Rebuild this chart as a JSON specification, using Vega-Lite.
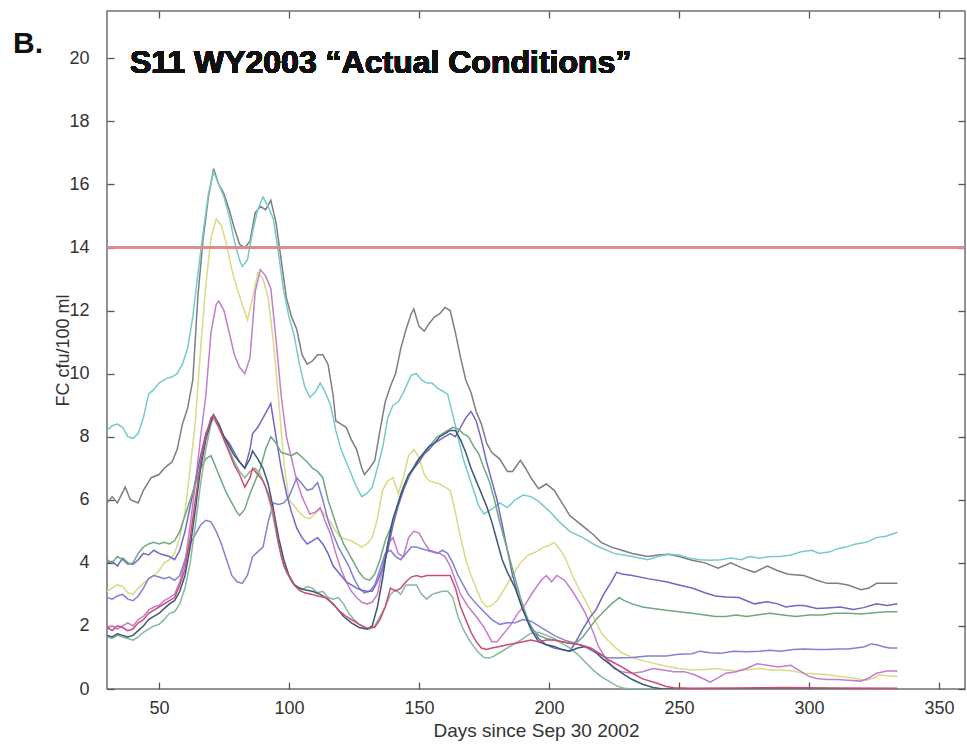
{
"$schema": "https://vega.github.io/schema/vega-lite/v6.json",
"width": 858, "height": 678,
"autosize": {"type": "none"},
"padding": {"left": 107, "top": 11, "right": 2, "bottom": 55},
"background": "white",
"config": {"view": {"stroke": "#707070", "strokeWidth": 1.5}, "font": "Liberation Sans"},
"title": {"text": "B.", "anchor": "start", "frame": "group", "dx": -94, "dy": 73, "offset": 0, "baseline": "alphabetic", "fontSize": 30, "fontWeight": "bold", "font": "Liberation Sans", "color": "#111111"},
"data": {"values": [
{"s":"a","day":30,"fc":5.9},{"s":"a","day":32,"fc":6.1},{"s":"a","day":34,"fc":5.9},{"s":"a","day":37,"fc":6.4},{"s":"a","day":39,"fc":6.0},{"s":"a","day":42,"fc":5.9},{"s":"a","day":44,"fc":6.3},{"s":"a","day":47,"fc":6.7},{"s":"a","day":50,"fc":6.8},{"s":"a","day":52,"fc":7.0},{"s":"a","day":55,"fc":7.2},{"s":"a","day":57,"fc":7.6},{"s":"a","day":59,"fc":8.4},{"s":"a","day":61,"fc":8.9},{"s":"a","day":63,"fc":9.8},{"s":"a","day":65,"fc":12.5},{"s":"a","day":67,"fc":14.3},{"s":"a","day":69,"fc":15.6},{"s":"a","day":71,"fc":16.5},{"s":"a","day":73,"fc":16.0},{"s":"a","day":75,"fc":15.7},{"s":"a","day":77,"fc":15.2},{"s":"a","day":79,"fc":14.6},{"s":"a","day":81,"fc":14.1},{"s":"a","day":83,"fc":14.0},{"s":"a","day":85,"fc":14.2},{"s":"a","day":87,"fc":15.1},{"s":"a","day":89,"fc":15.3},{"s":"a","day":91,"fc":15.2},{"s":"a","day":93,"fc":15.5},{"s":"a","day":95,"fc":14.8},{"s":"a","day":97,"fc":13.6},{"s":"a","day":99,"fc":12.4},{"s":"a","day":101,"fc":11.8},{"s":"a","day":103,"fc":11.4},{"s":"a","day":105,"fc":10.6},{"s":"a","day":107,"fc":10.3},{"s":"a","day":109,"fc":10.4},{"s":"a","day":111,"fc":10.6},{"s":"a","day":113,"fc":10.6},{"s":"a","day":115,"fc":10.3},{"s":"a","day":117,"fc":9.3},{"s":"a","day":118,"fc":8.5},{"s":"a","day":120,"fc":8.4},{"s":"a","day":122,"fc":8.3},{"s":"a","day":124,"fc":7.9},{"s":"a","day":126,"fc":7.6},{"s":"a","day":128,"fc":7.0},{"s":"a","day":129,"fc":6.8},{"s":"a","day":131,"fc":7.0},{"s":"a","day":133,"fc":7.25},{"s":"a","day":135,"fc":8.2},{"s":"a","day":137,"fc":9.1},{"s":"a","day":139,"fc":9.6},{"s":"a","day":141,"fc":10.0},{"s":"a","day":143,"fc":10.8},{"s":"a","day":145,"fc":11.4},{"s":"a","day":147,"fc":11.9},{"s":"a","day":148,"fc":12.05},{"s":"a","day":150,"fc":11.5},{"s":"a","day":152,"fc":11.35},{"s":"a","day":154,"fc":11.6},{"s":"a","day":156,"fc":11.8},{"s":"a","day":158,"fc":11.9},{"s":"a","day":160,"fc":12.1},{"s":"a","day":162,"fc":12.0},{"s":"a","day":164,"fc":11.3},{"s":"a","day":166,"fc":10.5},{"s":"a","day":168,"fc":9.8},{"s":"a","day":170,"fc":9.4},{"s":"a","day":172,"fc":8.8},{"s":"a","day":174,"fc":8.4},{"s":"a","day":176,"fc":7.8},{"s":"a","day":178,"fc":7.5},{"s":"a","day":181,"fc":7.3},{"s":"a","day":184,"fc":6.9},{"s":"a","day":186,"fc":6.9},{"s":"a","day":189,"fc":7.25},{"s":"a","day":191,"fc":7.0},{"s":"a","day":193,"fc":6.7},{"s":"a","day":196,"fc":6.35},{"s":"a","day":199,"fc":6.5},{"s":"a","day":202,"fc":6.3},{"s":"a","day":205,"fc":5.9},{"s":"a","day":208,"fc":5.5},{"s":"a","day":211,"fc":5.3},{"s":"a","day":214,"fc":5.1},{"s":"a","day":217,"fc":4.9},{"s":"a","day":220,"fc":4.65},{"s":"a","day":224,"fc":4.5},{"s":"a","day":228,"fc":4.4},{"s":"a","day":232,"fc":4.3},{"s":"a","day":238,"fc":4.2},{"s":"a","day":242,"fc":4.25},{"s":"a","day":246,"fc":4.27},{"s":"a","day":250,"fc":4.2},{"s":"a","day":255,"fc":4.08},{"s":"a","day":260,"fc":4.0},{"s":"a","day":265,"fc":3.83},{"s":"a","day":270,"fc":4.0},{"s":"a","day":274,"fc":3.85},{"s":"a","day":279,"fc":3.7},{"s":"a","day":284,"fc":3.9},{"s":"a","day":288,"fc":3.75},{"s":"a","day":292,"fc":3.64},{"s":"a","day":298,"fc":3.6},{"s":"a","day":303,"fc":3.45},{"s":"a","day":307,"fc":3.35},{"s":"a","day":311,"fc":3.35},{"s":"a","day":315,"fc":3.3},{"s":"a","day":320,"fc":3.15},{"s":"a","day":323,"fc":3.2},{"s":"a","day":326,"fc":3.35},{"s":"a","day":330,"fc":3.35},{"s":"a","day":334,"fc":3.35},
{"s":"b","day":30,"fc":8.2},{"s":"b","day":32,"fc":8.35},{"s":"b","day":34,"fc":8.4},{"s":"b","day":36,"fc":8.3},{"s":"b","day":38,"fc":8.0},{"s":"b","day":40,"fc":7.95},{"s":"b","day":42,"fc":8.1},{"s":"b","day":44,"fc":8.6},{"s":"b","day":46,"fc":9.35},{"s":"b","day":48,"fc":9.5},{"s":"b","day":50,"fc":9.7},{"s":"b","day":53,"fc":9.85},{"s":"b","day":55,"fc":9.9},{"s":"b","day":57,"fc":10.0},{"s":"b","day":59,"fc":10.3},{"s":"b","day":61,"fc":10.8},{"s":"b","day":63,"fc":11.8},{"s":"b","day":65,"fc":13.2},{"s":"b","day":67,"fc":14.5},{"s":"b","day":69,"fc":15.7},{"s":"b","day":71,"fc":16.4},{"s":"b","day":73,"fc":16.0},{"s":"b","day":75,"fc":15.6},{"s":"b","day":77,"fc":15.0},{"s":"b","day":79,"fc":14.2},{"s":"b","day":81,"fc":13.6},{"s":"b","day":82,"fc":13.4},{"s":"b","day":84,"fc":13.6},{"s":"b","day":86,"fc":14.5},{"s":"b","day":88,"fc":15.2},{"s":"b","day":90,"fc":15.6},{"s":"b","day":92,"fc":15.3},{"s":"b","day":94,"fc":14.9},{"s":"b","day":96,"fc":13.8},{"s":"b","day":98,"fc":12.6},{"s":"b","day":100,"fc":11.8},{"s":"b","day":102,"fc":11.2},{"s":"b","day":104,"fc":10.3},{"s":"b","day":106,"fc":9.6},{"s":"b","day":108,"fc":9.25},{"s":"b","day":110,"fc":9.4},{"s":"b","day":112,"fc":9.7},{"s":"b","day":114,"fc":9.4},{"s":"b","day":116,"fc":9.0},{"s":"b","day":118,"fc":8.2},{"s":"b","day":120,"fc":7.6},{"s":"b","day":123,"fc":7.0},{"s":"b","day":126,"fc":6.4},{"s":"b","day":128,"fc":6.1},{"s":"b","day":130,"fc":6.2},{"s":"b","day":132,"fc":6.4},{"s":"b","day":134,"fc":7.0},{"s":"b","day":136,"fc":7.65},{"s":"b","day":138,"fc":8.6},{"s":"b","day":140,"fc":9.0},{"s":"b","day":142,"fc":9.1},{"s":"b","day":144,"fc":9.4},{"s":"b","day":147,"fc":9.95},{"s":"b","day":149,"fc":10.0},{"s":"b","day":151,"fc":9.8},{"s":"b","day":153,"fc":9.7},{"s":"b","day":155,"fc":9.7},{"s":"b","day":157,"fc":9.55},{"s":"b","day":159,"fc":9.45},{"s":"b","day":161,"fc":9.35},{"s":"b","day":163,"fc":8.7},{"s":"b","day":165,"fc":8.0},{"s":"b","day":167,"fc":7.3},{"s":"b","day":169,"fc":6.8},{"s":"b","day":171,"fc":6.3},{"s":"b","day":173,"fc":5.8},{"s":"b","day":175,"fc":5.55},{"s":"b","day":178,"fc":5.7},{"s":"b","day":181,"fc":5.9},{"s":"b","day":184,"fc":5.75},{"s":"b","day":187,"fc":6.0},{"s":"b","day":190,"fc":6.15},{"s":"b","day":193,"fc":6.1},{"s":"b","day":196,"fc":5.95},{"s":"b","day":200,"fc":5.65},{"s":"b","day":204,"fc":5.3},{"s":"b","day":208,"fc":5.0},{"s":"b","day":213,"fc":4.8},{"s":"b","day":218,"fc":4.55},{"s":"b","day":225,"fc":4.3},{"s":"b","day":232,"fc":4.2},{"s":"b","day":238,"fc":4.1},{"s":"b","day":242,"fc":4.2},{"s":"b","day":246,"fc":4.27},{"s":"b","day":250,"fc":4.25},{"s":"b","day":254,"fc":4.15},{"s":"b","day":258,"fc":4.1},{"s":"b","day":262,"fc":4.08},{"s":"b","day":266,"fc":4.1},{"s":"b","day":270,"fc":4.15},{"s":"b","day":274,"fc":4.1},{"s":"b","day":277,"fc":4.2},{"s":"b","day":281,"fc":4.15},{"s":"b","day":285,"fc":4.2},{"s":"b","day":289,"fc":4.2},{"s":"b","day":293,"fc":4.25},{"s":"b","day":297,"fc":4.35},{"s":"b","day":301,"fc":4.4},{"s":"b","day":304,"fc":4.3},{"s":"b","day":308,"fc":4.35},{"s":"b","day":311,"fc":4.45},{"s":"b","day":314,"fc":4.5},{"s":"b","day":318,"fc":4.6},{"s":"b","day":322,"fc":4.65},{"s":"b","day":326,"fc":4.8},{"s":"b","day":330,"fc":4.85},{"s":"b","day":334,"fc":4.97},
{"s":"c","day":30,"fc":3.1},{"s":"c","day":32,"fc":3.2},{"s":"c","day":34,"fc":3.3},{"s":"c","day":36,"fc":3.25},{"s":"c","day":38,"fc":3.05},{"s":"c","day":40,"fc":3.0},{"s":"c","day":42,"fc":3.2},{"s":"c","day":44,"fc":3.35},{"s":"c","day":46,"fc":3.5},{"s":"c","day":48,"fc":3.6},{"s":"c","day":50,"fc":3.75},{"s":"c","day":52,"fc":4.0},{"s":"c","day":54,"fc":4.1},{"s":"c","day":56,"fc":4.3},{"s":"c","day":58,"fc":4.8},{"s":"c","day":60,"fc":5.6},{"s":"c","day":62,"fc":7.0},{"s":"c","day":64,"fc":8.5},{"s":"c","day":66,"fc":10.8},{"s":"c","day":68,"fc":12.8},{"s":"c","day":70,"fc":14.3},{"s":"c","day":72,"fc":14.9},{"s":"c","day":74,"fc":14.7},{"s":"c","day":76,"fc":14.1},{"s":"c","day":78,"fc":13.3},{"s":"c","day":80,"fc":12.7},{"s":"c","day":82,"fc":12.2},{"s":"c","day":84,"fc":11.7},{"s":"c","day":86,"fc":12.4},{"s":"c","day":88,"fc":13.2},{"s":"c","day":90,"fc":13.0},{"s":"c","day":92,"fc":12.4},{"s":"c","day":94,"fc":11.0},{"s":"c","day":96,"fc":9.2},{"s":"c","day":98,"fc":7.2},{"s":"c","day":100,"fc":6.0},{"s":"c","day":102,"fc":5.8},{"s":"c","day":104,"fc":5.6},{"s":"c","day":106,"fc":5.45},{"s":"c","day":108,"fc":5.4},{"s":"c","day":110,"fc":5.55},{"s":"c","day":112,"fc":5.7},{"s":"c","day":114,"fc":5.5},{"s":"c","day":116,"fc":5.3},{"s":"c","day":118,"fc":5.0},{"s":"c","day":120,"fc":4.8},{"s":"c","day":122,"fc":4.75},{"s":"c","day":124,"fc":4.7},{"s":"c","day":126,"fc":4.6},{"s":"c","day":128,"fc":4.5},{"s":"c","day":130,"fc":4.6},{"s":"c","day":132,"fc":4.8},{"s":"c","day":134,"fc":5.4},{"s":"c","day":136,"fc":6.3},{"s":"c","day":138,"fc":6.6},{"s":"c","day":140,"fc":6.7},{"s":"c","day":142,"fc":6.2},{"s":"c","day":144,"fc":6.7},{"s":"c","day":146,"fc":7.4},{"s":"c","day":148,"fc":7.6},{"s":"c","day":150,"fc":7.35},{"s":"c","day":152,"fc":6.8},{"s":"c","day":154,"fc":6.6},{"s":"c","day":156,"fc":6.55},{"s":"c","day":158,"fc":6.5},{"s":"c","day":160,"fc":6.4},{"s":"c","day":162,"fc":6.3},{"s":"c","day":164,"fc":5.6},{"s":"c","day":166,"fc":4.8},{"s":"c","day":168,"fc":4.1},{"s":"c","day":170,"fc":3.6},{"s":"c","day":172,"fc":3.2},{"s":"c","day":174,"fc":2.8},{"s":"c","day":176,"fc":2.6},{"s":"c","day":178,"fc":2.65},{"s":"c","day":180,"fc":2.8},{"s":"c","day":183,"fc":3.2},{"s":"c","day":186,"fc":3.6},{"s":"c","day":189,"fc":4.0},{"s":"c","day":192,"fc":4.25},{"s":"c","day":195,"fc":4.35},{"s":"c","day":198,"fc":4.5},{"s":"c","day":200,"fc":4.55},{"s":"c","day":202,"fc":4.65},{"s":"c","day":204,"fc":4.45},{"s":"c","day":206,"fc":4.2},{"s":"c","day":209,"fc":3.6},{"s":"c","day":212,"fc":3.1},{"s":"c","day":214,"fc":2.8},{"s":"c","day":217,"fc":2.3},{"s":"c","day":220,"fc":1.8},{"s":"c","day":222,"fc":1.6},{"s":"c","day":225,"fc":1.35},{"s":"c","day":228,"fc":1.15},{"s":"c","day":232,"fc":1.0},{"s":"c","day":236,"fc":0.9},{"s":"c","day":240,"fc":0.82},{"s":"c","day":245,"fc":0.72},{"s":"c","day":250,"fc":0.65},{"s":"c","day":255,"fc":0.6},{"s":"c","day":260,"fc":0.62},{"s":"c","day":264,"fc":0.65},{"s":"c","day":268,"fc":0.6},{"s":"c","day":272,"fc":0.58},{"s":"c","day":277,"fc":0.62},{"s":"c","day":281,"fc":0.65},{"s":"c","day":285,"fc":0.6},{"s":"c","day":289,"fc":0.6},{"s":"c","day":293,"fc":0.58},{"s":"c","day":298,"fc":0.5},{"s":"c","day":302,"fc":0.48},{"s":"c","day":307,"fc":0.45},{"s":"c","day":312,"fc":0.4},{"s":"c","day":317,"fc":0.35},{"s":"c","day":320,"fc":0.3},{"s":"c","day":322,"fc":0.28},{"s":"c","day":325,"fc":0.35},{"s":"c","day":327,"fc":0.45},{"s":"c","day":330,"fc":0.42},{"s":"c","day":334,"fc":0.4},
{"s":"d","day":30,"fc":1.95},{"s":"d","day":32,"fc":2.0},{"s":"d","day":34,"fc":1.9},{"s":"d","day":36,"fc":2.0},{"s":"d","day":38,"fc":2.1},{"s":"d","day":40,"fc":2.0},{"s":"d","day":42,"fc":2.2},{"s":"d","day":44,"fc":2.3},{"s":"d","day":46,"fc":2.5},{"s":"d","day":48,"fc":2.6},{"s":"d","day":50,"fc":2.65},{"s":"d","day":52,"fc":2.8},{"s":"d","day":54,"fc":2.9},{"s":"d","day":56,"fc":3.0},{"s":"d","day":58,"fc":3.4},{"s":"d","day":60,"fc":4.0},{"s":"d","day":62,"fc":5.2},{"s":"d","day":64,"fc":6.5},{"s":"d","day":66,"fc":8.0},{"s":"d","day":68,"fc":9.3},{"s":"d","day":70,"fc":11.3},{"s":"d","day":72,"fc":12.2},{"s":"d","day":73,"fc":12.3},{"s":"d","day":75,"fc":12.0},{"s":"d","day":77,"fc":11.3},{"s":"d","day":79,"fc":10.6},{"s":"d","day":81,"fc":10.2},{"s":"d","day":83,"fc":10.0},{"s":"d","day":85,"fc":10.5},{"s":"d","day":87,"fc":12.6},{"s":"d","day":89,"fc":13.3},{"s":"d","day":91,"fc":13.1},{"s":"d","day":93,"fc":12.7},{"s":"d","day":95,"fc":11.1},{"s":"d","day":97,"fc":9.3},{"s":"d","day":99,"fc":8.0},{"s":"d","day":101,"fc":7.3},{"s":"d","day":103,"fc":6.6},{"s":"d","day":105,"fc":6.1},{"s":"d","day":108,"fc":5.55},{"s":"d","day":110,"fc":5.6},{"s":"d","day":112,"fc":5.75},{"s":"d","day":114,"fc":5.3},{"s":"d","day":116,"fc":4.9},{"s":"d","day":118,"fc":4.3},{"s":"d","day":120,"fc":3.8},{"s":"d","day":122,"fc":3.4},{"s":"d","day":124,"fc":3.1},{"s":"d","day":126,"fc":2.9},{"s":"d","day":128,"fc":2.75},{"s":"d","day":130,"fc":2.7},{"s":"d","day":132,"fc":2.75},{"s":"d","day":134,"fc":3.0},{"s":"d","day":136,"fc":3.8},{"s":"d","day":138,"fc":4.6},{"s":"d","day":140,"fc":4.8},{"s":"d","day":142,"fc":4.3},{"s":"d","day":144,"fc":4.2},{"s":"d","day":146,"fc":4.8},{"s":"d","day":148,"fc":5.0},{"s":"d","day":150,"fc":4.95},{"s":"d","day":152,"fc":4.65},{"s":"d","day":154,"fc":4.4},{"s":"d","day":156,"fc":4.35},{"s":"d","day":158,"fc":4.3},{"s":"d","day":160,"fc":4.2},{"s":"d","day":162,"fc":3.9},{"s":"d","day":164,"fc":3.45},{"s":"d","day":166,"fc":3.0},{"s":"d","day":169,"fc":2.6},{"s":"d","day":172,"fc":2.3},{"s":"d","day":175,"fc":1.96},{"s":"d","day":178,"fc":1.5},{"s":"d","day":180,"fc":1.5},{"s":"d","day":182,"fc":1.7},{"s":"d","day":185,"fc":2.0},{"s":"d","day":188,"fc":2.4},{"s":"d","day":191,"fc":2.7},{"s":"d","day":194,"fc":3.1},{"s":"d","day":197,"fc":3.45},{"s":"d","day":199,"fc":3.6},{"s":"d","day":201,"fc":3.4},{"s":"d","day":203,"fc":3.6},{"s":"d","day":206,"fc":3.45},{"s":"d","day":209,"fc":3.1},{"s":"d","day":212,"fc":2.7},{"s":"d","day":214,"fc":2.4},{"s":"d","day":217,"fc":1.8},{"s":"d","day":219,"fc":1.35},{"s":"d","day":222,"fc":0.95},{"s":"d","day":225,"fc":0.65},{"s":"d","day":228,"fc":0.55},{"s":"d","day":232,"fc":0.5},{"s":"d","day":236,"fc":0.55},{"s":"d","day":240,"fc":0.65},{"s":"d","day":244,"fc":0.6},{"s":"d","day":248,"fc":0.55},{"s":"d","day":252,"fc":0.55},{"s":"d","day":256,"fc":0.45},{"s":"d","day":260,"fc":0.3},{"s":"d","day":262,"fc":0.22},{"s":"d","day":265,"fc":0.35},{"s":"d","day":268,"fc":0.5},{"s":"d","day":272,"fc":0.55},{"s":"d","day":276,"fc":0.65},{"s":"d","day":280,"fc":0.8},{"s":"d","day":284,"fc":0.75},{"s":"d","day":288,"fc":0.7},{"s":"d","day":293,"fc":0.75},{"s":"d","day":296,"fc":0.6},{"s":"d","day":300,"fc":0.4},{"s":"d","day":303,"fc":0.33},{"s":"d","day":307,"fc":0.3},{"s":"d","day":311,"fc":0.3},{"s":"d","day":315,"fc":0.28},{"s":"d","day":320,"fc":0.25},{"s":"d","day":323,"fc":0.35},{"s":"d","day":326,"fc":0.5},{"s":"d","day":330,"fc":0.57},{"s":"d","day":334,"fc":0.57},
{"s":"f","day":30,"fc":2.9},{"s":"f","day":32,"fc":2.85},{"s":"f","day":34,"fc":2.95},{"s":"f","day":36,"fc":3.0},{"s":"f","day":38,"fc":2.85},{"s":"f","day":40,"fc":2.8},{"s":"f","day":42,"fc":2.95},{"s":"f","day":44,"fc":3.2},{"s":"f","day":46,"fc":3.5},{"s":"f","day":48,"fc":3.6},{"s":"f","day":50,"fc":3.55},{"s":"f","day":52,"fc":3.5},{"s":"f","day":54,"fc":3.55},{"s":"f","day":56,"fc":3.45},{"s":"f","day":58,"fc":3.6},{"s":"f","day":60,"fc":4.1},{"s":"f","day":62,"fc":4.6},{"s":"f","day":64,"fc":4.9},{"s":"f","day":66,"fc":5.2},{"s":"f","day":68,"fc":5.35},{"s":"f","day":70,"fc":5.3},{"s":"f","day":72,"fc":5.0},{"s":"f","day":74,"fc":4.6},{"s":"f","day":76,"fc":4.1},{"s":"f","day":78,"fc":3.6},{"s":"f","day":80,"fc":3.4},{"s":"f","day":82,"fc":3.35},{"s":"f","day":84,"fc":3.6},{"s":"f","day":86,"fc":4.2},{"s":"f","day":88,"fc":4.35},{"s":"f","day":90,"fc":4.5},{"s":"f","day":92,"fc":5.3},{"s":"f","day":94,"fc":5.9},{"s":"f","day":96,"fc":5.85},{"s":"f","day":98,"fc":5.9},{"s":"f","day":100,"fc":6.1},{"s":"f","day":102,"fc":6.5},{"s":"f","day":103,"fc":6.7},{"s":"f","day":105,"fc":6.5},{"s":"f","day":107,"fc":6.3},{"s":"f","day":109,"fc":6.35},{"s":"f","day":111,"fc":6.55},{"s":"f","day":113,"fc":6.0},{"s":"f","day":115,"fc":5.35},{"s":"f","day":117,"fc":4.9},{"s":"f","day":119,"fc":4.5},{"s":"f","day":121,"fc":4.2},{"s":"f","day":123,"fc":3.9},{"s":"f","day":125,"fc":3.5},{"s":"f","day":127,"fc":3.2},{"s":"f","day":129,"fc":3.05},{"s":"f","day":131,"fc":3.1},{"s":"f","day":133,"fc":3.3},{"s":"f","day":135,"fc":3.8},{"s":"f","day":137,"fc":4.3},{"s":"f","day":139,"fc":4.4},{"s":"f","day":141,"fc":4.2},{"s":"f","day":143,"fc":4.1},{"s":"f","day":145,"fc":4.3},{"s":"f","day":147,"fc":4.5},{"s":"f","day":149,"fc":4.5},{"s":"f","day":151,"fc":4.45},{"s":"f","day":153,"fc":4.4},{"s":"f","day":155,"fc":4.35},{"s":"f","day":157,"fc":4.3},{"s":"f","day":159,"fc":4.4},{"s":"f","day":161,"fc":4.3},{"s":"f","day":163,"fc":4.0},{"s":"f","day":165,"fc":3.6},{"s":"f","day":167,"fc":3.3},{"s":"f","day":169,"fc":3.0},{"s":"f","day":172,"fc":2.7},{"s":"f","day":175,"fc":2.45},{"s":"f","day":178,"fc":2.2},{"s":"f","day":181,"fc":2.05},{"s":"f","day":184,"fc":2.1},{"s":"f","day":187,"fc":2.1},{"s":"f","day":190,"fc":2.2},{"s":"f","day":193,"fc":2.15},{"s":"f","day":196,"fc":2.0},{"s":"f","day":199,"fc":1.85},{"s":"f","day":202,"fc":1.7},{"s":"f","day":206,"fc":1.55},{"s":"f","day":210,"fc":1.45},{"s":"f","day":214,"fc":1.33},{"s":"f","day":218,"fc":1.15},{"s":"f","day":222,"fc":1.0},{"s":"f","day":226,"fc":0.98},{"s":"f","day":232,"fc":1.0},{"s":"f","day":238,"fc":1.05},{"s":"f","day":245,"fc":1.05},{"s":"f","day":250,"fc":1.1},{"s":"f","day":255,"fc":1.12},{"s":"f","day":258,"fc":1.2},{"s":"f","day":262,"fc":1.15},{"s":"f","day":266,"fc":1.13},{"s":"f","day":271,"fc":1.2},{"s":"f","day":276,"fc":1.18},{"s":"f","day":281,"fc":1.2},{"s":"f","day":285,"fc":1.23},{"s":"f","day":289,"fc":1.2},{"s":"f","day":294,"fc":1.25},{"s":"f","day":298,"fc":1.27},{"s":"f","day":303,"fc":1.25},{"s":"f","day":307,"fc":1.25},{"s":"f","day":311,"fc":1.27},{"s":"f","day":315,"fc":1.27},{"s":"f","day":318,"fc":1.3},{"s":"f","day":321,"fc":1.33},{"s":"f","day":324,"fc":1.43},{"s":"f","day":326,"fc":1.4},{"s":"f","day":329,"fc":1.33},{"s":"f","day":331,"fc":1.3},{"s":"f","day":334,"fc":1.3},
{"s":"e","day":30,"fc":4.0},{"s":"e","day":32,"fc":4.05},{"s":"e","day":34,"fc":3.9},{"s":"e","day":36,"fc":4.15},{"s":"e","day":38,"fc":4.0},{"s":"e","day":40,"fc":3.95},{"s":"e","day":42,"fc":4.1},{"s":"e","day":44,"fc":4.3},{"s":"e","day":46,"fc":4.25},{"s":"e","day":48,"fc":4.4},{"s":"e","day":50,"fc":4.3},{"s":"e","day":52,"fc":4.25},{"s":"e","day":54,"fc":4.2},{"s":"e","day":56,"fc":4.1},{"s":"e","day":58,"fc":4.4},{"s":"e","day":60,"fc":5.0},{"s":"e","day":62,"fc":5.8},{"s":"e","day":64,"fc":6.6},{"s":"e","day":66,"fc":7.4},{"s":"e","day":68,"fc":8.1},{"s":"e","day":70,"fc":8.5},{"s":"e","day":71,"fc":8.6},{"s":"e","day":73,"fc":8.3},{"s":"e","day":75,"fc":8.0},{"s":"e","day":77,"fc":7.8},{"s":"e","day":79,"fc":7.5},{"s":"e","day":81,"fc":7.2},{"s":"e","day":83,"fc":7.0},{"s":"e","day":85,"fc":7.6},{"s":"e","day":86,"fc":8.1},{"s":"e","day":88,"fc":8.3},{"s":"e","day":90,"fc":8.6},{"s":"e","day":92,"fc":8.9},{"s":"e","day":93,"fc":9.05},{"s":"e","day":95,"fc":8.0},{"s":"e","day":97,"fc":7.0},{"s":"e","day":99,"fc":6.2},{"s":"e","day":101,"fc":5.6},{"s":"e","day":103,"fc":5.1},{"s":"e","day":105,"fc":4.8},{"s":"e","day":107,"fc":4.6},{"s":"e","day":109,"fc":4.7},{"s":"e","day":111,"fc":4.8},{"s":"e","day":113,"fc":4.6},{"s":"e","day":115,"fc":4.3},{"s":"e","day":117,"fc":3.9},{"s":"e","day":120,"fc":3.6},{"s":"e","day":122,"fc":3.4},{"s":"e","day":124,"fc":3.3},{"s":"e","day":126,"fc":3.2},{"s":"e","day":128,"fc":3.13},{"s":"e","day":130,"fc":3.1},{"s":"e","day":132,"fc":3.1},{"s":"e","day":134,"fc":3.4},{"s":"e","day":136,"fc":3.85},{"s":"e","day":138,"fc":4.4},{"s":"e","day":140,"fc":5.2},{"s":"e","day":142,"fc":5.8},{"s":"e","day":144,"fc":6.3},{"s":"e","day":146,"fc":6.7},{"s":"e","day":148,"fc":7.0},{"s":"e","day":150,"fc":7.2},{"s":"e","day":152,"fc":7.45},{"s":"e","day":154,"fc":7.6},{"s":"e","day":156,"fc":7.8},{"s":"e","day":158,"fc":7.9},{"s":"e","day":160,"fc":8.0},{"s":"e","day":162,"fc":8.1},{"s":"e","day":164,"fc":8.0},{"s":"e","day":166,"fc":8.3},{"s":"e","day":168,"fc":8.6},{"s":"e","day":170,"fc":8.8},{"s":"e","day":172,"fc":8.5},{"s":"e","day":174,"fc":7.9},{"s":"e","day":176,"fc":7.2},{"s":"e","day":178,"fc":6.6},{"s":"e","day":180,"fc":6.0},{"s":"e","day":182,"fc":5.2},{"s":"e","day":184,"fc":4.4},{"s":"e","day":186,"fc":3.6},{"s":"e","day":188,"fc":3.0},{"s":"e","day":190,"fc":2.5},{"s":"e","day":193,"fc":2.0},{"s":"e","day":196,"fc":1.6},{"s":"e","day":199,"fc":1.4},{"s":"e","day":202,"fc":1.3},{"s":"e","day":205,"fc":1.25},{"s":"e","day":208,"fc":1.2},{"s":"e","day":210,"fc":1.45},{"s":"e","day":213,"fc":1.9},{"s":"e","day":216,"fc":2.3},{"s":"e","day":218,"fc":2.5},{"s":"e","day":221,"fc":3.0},{"s":"e","day":224,"fc":3.4},{"s":"e","day":226,"fc":3.7},{"s":"e","day":228,"fc":3.65},{"s":"e","day":232,"fc":3.6},{"s":"e","day":238,"fc":3.5},{"s":"e","day":245,"fc":3.4},{"s":"e","day":250,"fc":3.3},{"s":"e","day":255,"fc":3.2},{"s":"e","day":260,"fc":3.05},{"s":"e","day":264,"fc":2.95},{"s":"e","day":268,"fc":2.92},{"s":"e","day":273,"fc":2.9},{"s":"e","day":276,"fc":2.8},{"s":"e","day":279,"fc":2.7},{"s":"e","day":284,"fc":2.77},{"s":"e","day":288,"fc":2.7},{"s":"e","day":291,"fc":2.6},{"s":"e","day":295,"fc":2.65},{"s":"e","day":298,"fc":2.65},{"s":"e","day":303,"fc":2.55},{"s":"e","day":307,"fc":2.57},{"s":"e","day":312,"fc":2.6},{"s":"e","day":317,"fc":2.52},{"s":"e","day":321,"fc":2.58},{"s":"e","day":326,"fc":2.7},{"s":"e","day":330,"fc":2.65},{"s":"e","day":334,"fc":2.7},
{"s":"g","day":30,"fc":4.1},{"s":"g","day":32,"fc":4.0},{"s":"g","day":34,"fc":4.2},{"s":"g","day":36,"fc":4.1},{"s":"g","day":38,"fc":3.95},{"s":"g","day":40,"fc":4.0},{"s":"g","day":42,"fc":4.3},{"s":"g","day":44,"fc":4.5},{"s":"g","day":46,"fc":4.6},{"s":"g","day":48,"fc":4.65},{"s":"g","day":50,"fc":4.6},{"s":"g","day":52,"fc":4.65},{"s":"g","day":54,"fc":4.6},{"s":"g","day":56,"fc":4.7},{"s":"g","day":58,"fc":5.0},{"s":"g","day":60,"fc":5.5},{"s":"g","day":62,"fc":6.0},{"s":"g","day":64,"fc":6.5},{"s":"g","day":66,"fc":7.0},{"s":"g","day":68,"fc":7.3},{"s":"g","day":70,"fc":7.4},{"s":"g","day":72,"fc":7.0},{"s":"g","day":74,"fc":6.6},{"s":"g","day":76,"fc":6.2},{"s":"g","day":78,"fc":5.9},{"s":"g","day":80,"fc":5.6},{"s":"g","day":81,"fc":5.5},{"s":"g","day":83,"fc":5.7},{"s":"g","day":85,"fc":6.2},{"s":"g","day":87,"fc":6.6},{"s":"g","day":89,"fc":7.0},{"s":"g","day":91,"fc":7.6},{"s":"g","day":93,"fc":8.0},{"s":"g","day":95,"fc":7.8},{"s":"g","day":97,"fc":7.5},{"s":"g","day":99,"fc":7.45},{"s":"g","day":101,"fc":7.4},{"s":"g","day":103,"fc":7.5},{"s":"g","day":105,"fc":7.35},{"s":"g","day":107,"fc":7.2},{"s":"g","day":109,"fc":7.0},{"s":"g","day":111,"fc":6.9},{"s":"g","day":113,"fc":6.7},{"s":"g","day":115,"fc":6.0},{"s":"g","day":117,"fc":5.5},{"s":"g","day":119,"fc":5.0},{"s":"g","day":121,"fc":4.6},{"s":"g","day":123,"fc":4.3},{"s":"g","day":125,"fc":4.0},{"s":"g","day":127,"fc":3.7},{"s":"g","day":129,"fc":3.5},{"s":"g","day":131,"fc":3.45},{"s":"g","day":133,"fc":3.65},{"s":"g","day":135,"fc":4.1},{"s":"g","day":137,"fc":4.7},{"s":"g","day":139,"fc":5.1},{"s":"g","day":141,"fc":5.6},{"s":"g","day":143,"fc":6.2},{"s":"g","day":145,"fc":6.6},{"s":"g","day":147,"fc":6.9},{"s":"g","day":149,"fc":7.2},{"s":"g","day":151,"fc":7.4},{"s":"g","day":153,"fc":7.6},{"s":"g","day":155,"fc":7.8},{"s":"g","day":157,"fc":8.0},{"s":"g","day":159,"fc":8.1},{"s":"g","day":161,"fc":8.2},{"s":"g","day":163,"fc":8.3},{"s":"g","day":165,"fc":8.25},{"s":"g","day":167,"fc":8.1},{"s":"g","day":169,"fc":8.0},{"s":"g","day":171,"fc":7.7},{"s":"g","day":173,"fc":7.45},{"s":"g","day":175,"fc":7.0},{"s":"g","day":177,"fc":6.6},{"s":"g","day":179,"fc":6.0},{"s":"g","day":181,"fc":5.3},{"s":"g","day":183,"fc":4.7},{"s":"g","day":185,"fc":4.1},{"s":"g","day":187,"fc":3.5},{"s":"g","day":189,"fc":2.9},{"s":"g","day":191,"fc":2.4},{"s":"g","day":193,"fc":1.96},{"s":"g","day":196,"fc":1.7},{"s":"g","day":199,"fc":1.6},{"s":"g","day":202,"fc":1.55},{"s":"g","day":205,"fc":1.5},{"s":"g","day":208,"fc":1.45},{"s":"g","day":211,"fc":1.5},{"s":"g","day":213,"fc":1.65},{"s":"g","day":215,"fc":1.87},{"s":"g","day":218,"fc":2.2},{"s":"g","day":221,"fc":2.45},{"s":"g","day":224,"fc":2.7},{"s":"g","day":227,"fc":2.9},{"s":"g","day":229,"fc":2.8},{"s":"g","day":232,"fc":2.7},{"s":"g","day":236,"fc":2.6},{"s":"g","day":240,"fc":2.55},{"s":"g","day":245,"fc":2.5},{"s":"g","day":250,"fc":2.45},{"s":"g","day":255,"fc":2.4},{"s":"g","day":260,"fc":2.35},{"s":"g","day":264,"fc":2.3},{"s":"g","day":268,"fc":2.3},{"s":"g","day":272,"fc":2.35},{"s":"g","day":276,"fc":2.3},{"s":"g","day":280,"fc":2.35},{"s":"g","day":285,"fc":2.4},{"s":"g","day":290,"fc":2.35},{"s":"g","day":295,"fc":2.3},{"s":"g","day":300,"fc":2.35},{"s":"g","day":305,"fc":2.35},{"s":"g","day":310,"fc":2.4},{"s":"g","day":315,"fc":2.4},{"s":"g","day":320,"fc":2.38},{"s":"g","day":325,"fc":2.42},{"s":"g","day":330,"fc":2.45},{"s":"g","day":334,"fc":2.45},
{"s":"h","day":30,"fc":1.65},{"s":"h","day":32,"fc":1.6},{"s":"h","day":34,"fc":1.7},{"s":"h","day":36,"fc":1.65},{"s":"h","day":38,"fc":1.6},{"s":"h","day":40,"fc":1.55},{"s":"h","day":42,"fc":1.65},{"s":"h","day":44,"fc":1.8},{"s":"h","day":46,"fc":1.9},{"s":"h","day":48,"fc":2.0},{"s":"h","day":50,"fc":2.05},{"s":"h","day":52,"fc":2.2},{"s":"h","day":54,"fc":2.4},{"s":"h","day":56,"fc":2.45},{"s":"h","day":58,"fc":2.7},{"s":"h","day":60,"fc":3.2},{"s":"h","day":62,"fc":4.0},{"s":"h","day":64,"fc":5.2},{"s":"h","day":66,"fc":6.5},{"s":"h","day":68,"fc":7.6},{"s":"h","day":70,"fc":8.4},{"s":"h","day":71,"fc":8.6},{"s":"h","day":73,"fc":8.4},{"s":"h","day":75,"fc":8.0},{"s":"h","day":77,"fc":7.6},{"s":"h","day":79,"fc":7.2},{"s":"h","day":81,"fc":6.9},{"s":"h","day":83,"fc":6.7},{"s":"h","day":85,"fc":6.9},{"s":"h","day":87,"fc":7.0},{"s":"h","day":89,"fc":6.8},{"s":"h","day":91,"fc":6.4},{"s":"h","day":93,"fc":5.8},{"s":"h","day":95,"fc":5.0},{"s":"h","day":97,"fc":4.2},{"s":"h","day":99,"fc":3.7},{"s":"h","day":101,"fc":3.4},{"s":"h","day":103,"fc":3.25},{"s":"h","day":105,"fc":3.15},{"s":"h","day":107,"fc":3.25},{"s":"h","day":109,"fc":3.2},{"s":"h","day":111,"fc":3.05},{"s":"h","day":113,"fc":3.1},{"s":"h","day":115,"fc":2.9},{"s":"h","day":117,"fc":2.85},{"s":"h","day":119,"fc":2.9},{"s":"h","day":121,"fc":2.7},{"s":"h","day":123,"fc":2.4},{"s":"h","day":125,"fc":2.2},{"s":"h","day":127,"fc":2.05},{"s":"h","day":129,"fc":1.95},{"s":"h","day":131,"fc":1.9},{"s":"h","day":133,"fc":2.0},{"s":"h","day":135,"fc":2.3},{"s":"h","day":137,"fc":2.6},{"s":"h","day":139,"fc":3.0},{"s":"h","day":141,"fc":3.15},{"s":"h","day":143,"fc":3.0},{"s":"h","day":145,"fc":3.3},{"s":"h","day":147,"fc":3.3},{"s":"h","day":149,"fc":3.3},{"s":"h","day":151,"fc":3.0},{"s":"h","day":153,"fc":2.85},{"s":"h","day":155,"fc":3.0},{"s":"h","day":157,"fc":3.05},{"s":"h","day":159,"fc":3.1},{"s":"h","day":161,"fc":3.1},{"s":"h","day":163,"fc":2.9},{"s":"h","day":165,"fc":2.3},{"s":"h","day":167,"fc":1.9},{"s":"h","day":169,"fc":1.6},{"s":"h","day":171,"fc":1.35},{"s":"h","day":173,"fc":1.15},{"s":"h","day":175,"fc":1.0},{"s":"h","day":177,"fc":0.98},{"s":"h","day":179,"fc":1.05},{"s":"h","day":181,"fc":1.15},{"s":"h","day":184,"fc":1.3},{"s":"h","day":187,"fc":1.45},{"s":"h","day":190,"fc":1.6},{"s":"h","day":193,"fc":1.77},{"s":"h","day":196,"fc":1.8},{"s":"h","day":199,"fc":1.7},{"s":"h","day":202,"fc":1.6},{"s":"h","day":205,"fc":1.45},{"s":"h","day":208,"fc":1.3},{"s":"h","day":211,"fc":1.1},{"s":"h","day":214,"fc":0.85},{"s":"h","day":217,"fc":0.6},{"s":"h","day":220,"fc":0.4},{"s":"h","day":223,"fc":0.25},{"s":"h","day":226,"fc":0.1},{"s":"h","day":229,"fc":0.02},{"s":"h","day":232,"fc":0},{"s":"h","day":260,"fc":0},{"s":"h","day":300,"fc":0},{"s":"h","day":334,"fc":0},
{"s":"i","day":30,"fc":1.7},{"s":"i","day":32,"fc":1.65},{"s":"i","day":34,"fc":1.75},{"s":"i","day":36,"fc":1.7},{"s":"i","day":38,"fc":1.65},{"s":"i","day":40,"fc":1.7},{"s":"i","day":42,"fc":1.85},{"s":"i","day":44,"fc":2.0},{"s":"i","day":46,"fc":2.2},{"s":"i","day":48,"fc":2.3},{"s":"i","day":50,"fc":2.4},{"s":"i","day":52,"fc":2.55},{"s":"i","day":54,"fc":2.7},{"s":"i","day":56,"fc":2.8},{"s":"i","day":58,"fc":3.1},{"s":"i","day":60,"fc":3.6},{"s":"i","day":62,"fc":4.5},{"s":"i","day":64,"fc":5.7},{"s":"i","day":66,"fc":7.0},{"s":"i","day":68,"fc":7.9},{"s":"i","day":70,"fc":8.5},{"s":"i","day":71,"fc":8.7},{"s":"i","day":73,"fc":8.4},{"s":"i","day":75,"fc":8.0},{"s":"i","day":77,"fc":7.7},{"s":"i","day":79,"fc":7.4},{"s":"i","day":81,"fc":7.2},{"s":"i","day":83,"fc":7.0},{"s":"i","day":85,"fc":7.3},{"s":"i","day":86,"fc":7.55},{"s":"i","day":88,"fc":7.3},{"s":"i","day":90,"fc":7.0},{"s":"i","day":92,"fc":6.5},{"s":"i","day":94,"fc":5.7},{"s":"i","day":96,"fc":4.8},{"s":"i","day":98,"fc":4.1},{"s":"i","day":100,"fc":3.6},{"s":"i","day":102,"fc":3.3},{"s":"i","day":104,"fc":3.2},{"s":"i","day":106,"fc":3.15},{"s":"i","day":109,"fc":3.1},{"s":"i","day":112,"fc":3.0},{"s":"i","day":115,"fc":2.85},{"s":"i","day":118,"fc":2.6},{"s":"i","day":121,"fc":2.3},{"s":"i","day":124,"fc":2.1},{"s":"i","day":127,"fc":1.95},{"s":"i","day":130,"fc":1.9},{"s":"i","day":132,"fc":2.0},{"s":"i","day":134,"fc":2.6},{"s":"i","day":136,"fc":3.5},{"s":"i","day":138,"fc":4.6},{"s":"i","day":140,"fc":5.4},{"s":"i","day":142,"fc":5.9},{"s":"i","day":144,"fc":6.4},{"s":"i","day":146,"fc":6.8},{"s":"i","day":148,"fc":7.0},{"s":"i","day":150,"fc":7.3},{"s":"i","day":152,"fc":7.5},{"s":"i","day":154,"fc":7.7},{"s":"i","day":156,"fc":7.8},{"s":"i","day":158,"fc":8.0},{"s":"i","day":160,"fc":8.1},{"s":"i","day":162,"fc":8.2},{"s":"i","day":164,"fc":8.2},{"s":"i","day":166,"fc":7.9},{"s":"i","day":168,"fc":7.5},{"s":"i","day":170,"fc":7.0},{"s":"i","day":172,"fc":6.6},{"s":"i","day":174,"fc":6.2},{"s":"i","day":176,"fc":5.8},{"s":"i","day":178,"fc":5.3},{"s":"i","day":180,"fc":4.7},{"s":"i","day":182,"fc":4.1},{"s":"i","day":184,"fc":3.7},{"s":"i","day":187,"fc":3.2},{"s":"i","day":190,"fc":2.5},{"s":"i","day":193,"fc":1.9},{"s":"i","day":196,"fc":1.5},{"s":"i","day":199,"fc":1.4},{"s":"i","day":202,"fc":1.35},{"s":"i","day":205,"fc":1.25},{"s":"i","day":208,"fc":1.2},{"s":"i","day":211,"fc":1.3},{"s":"i","day":214,"fc":1.35},{"s":"i","day":217,"fc":1.25},{"s":"i","day":220,"fc":1.0},{"s":"i","day":224,"fc":0.75},{"s":"i","day":228,"fc":0.5},{"s":"i","day":232,"fc":0.3},{"s":"i","day":236,"fc":0.15},{"s":"i","day":240,"fc":0.05},{"s":"i","day":244,"fc":0},{"s":"i","day":290,"fc":0},{"s":"i","day":334,"fc":0},
{"s":"j","day":30,"fc":1.95},{"s":"j","day":32,"fc":1.85},{"s":"j","day":34,"fc":2.0},{"s":"j","day":36,"fc":1.95},{"s":"j","day":38,"fc":1.85},{"s":"j","day":40,"fc":1.9},{"s":"j","day":42,"fc":2.1},{"s":"j","day":44,"fc":2.2},{"s":"j","day":46,"fc":2.4},{"s":"j","day":48,"fc":2.5},{"s":"j","day":50,"fc":2.6},{"s":"j","day":52,"fc":2.7},{"s":"j","day":54,"fc":2.8},{"s":"j","day":56,"fc":2.9},{"s":"j","day":58,"fc":3.3},{"s":"j","day":60,"fc":3.8},{"s":"j","day":62,"fc":4.8},{"s":"j","day":64,"fc":6.0},{"s":"j","day":66,"fc":7.2},{"s":"j","day":68,"fc":8.0},{"s":"j","day":70,"fc":8.6},{"s":"j","day":71,"fc":8.7},{"s":"j","day":73,"fc":8.3},{"s":"j","day":75,"fc":7.9},{"s":"j","day":77,"fc":7.5},{"s":"j","day":79,"fc":7.1},{"s":"j","day":81,"fc":6.8},{"s":"j","day":83,"fc":6.4},{"s":"j","day":85,"fc":6.7},{"s":"j","day":86,"fc":7.0},{"s":"j","day":88,"fc":6.8},{"s":"j","day":90,"fc":6.6},{"s":"j","day":92,"fc":6.2},{"s":"j","day":94,"fc":5.6},{"s":"j","day":96,"fc":4.6},{"s":"j","day":98,"fc":3.9},{"s":"j","day":100,"fc":3.6},{"s":"j","day":102,"fc":3.3},{"s":"j","day":104,"fc":3.13},{"s":"j","day":106,"fc":3.05},{"s":"j","day":109,"fc":3.0},{"s":"j","day":111,"fc":2.95},{"s":"j","day":114,"fc":2.9},{"s":"j","day":117,"fc":2.7},{"s":"j","day":119,"fc":2.5},{"s":"j","day":122,"fc":2.3},{"s":"j","day":124,"fc":2.2},{"s":"j","day":127,"fc":2.05},{"s":"j","day":130,"fc":1.93},{"s":"j","day":133,"fc":1.96},{"s":"j","day":135,"fc":2.2},{"s":"j","day":137,"fc":2.6},{"s":"j","day":139,"fc":3.2},{"s":"j","day":141,"fc":3.1},{"s":"j","day":143,"fc":3.2},{"s":"j","day":145,"fc":3.4},{"s":"j","day":147,"fc":3.55},{"s":"j","day":149,"fc":3.6},{"s":"j","day":151,"fc":3.55},{"s":"j","day":153,"fc":3.6},{"s":"j","day":156,"fc":3.6},{"s":"j","day":159,"fc":3.6},{"s":"j","day":162,"fc":3.6},{"s":"j","day":164,"fc":3.2},{"s":"j","day":166,"fc":2.6},{"s":"j","day":168,"fc":2.2},{"s":"j","day":170,"fc":1.8},{"s":"j","day":172,"fc":1.5},{"s":"j","day":174,"fc":1.3},{"s":"j","day":176,"fc":1.25},{"s":"j","day":178,"fc":1.3},{"s":"j","day":181,"fc":1.35},{"s":"j","day":184,"fc":1.4},{"s":"j","day":187,"fc":1.45},{"s":"j","day":190,"fc":1.5},{"s":"j","day":193,"fc":1.55},{"s":"j","day":196,"fc":1.5},{"s":"j","day":199,"fc":1.55},{"s":"j","day":202,"fc":1.55},{"s":"j","day":205,"fc":1.5},{"s":"j","day":208,"fc":1.45},{"s":"j","day":212,"fc":1.4},{"s":"j","day":216,"fc":1.3},{"s":"j","day":220,"fc":1.1},{"s":"j","day":223,"fc":0.92},{"s":"j","day":228,"fc":0.7},{"s":"j","day":232,"fc":0.5},{"s":"j","day":236,"fc":0.32},{"s":"j","day":241,"fc":0.2},{"s":"j","day":245,"fc":0.08},{"s":"j","day":248,"fc":0.04},{"s":"j","day":255,"fc":0.02},{"s":"j","day":270,"fc":0.03},{"s":"j","day":290,"fc":0.05},{"s":"j","day":310,"fc":0.03},{"s":"j","day":334,"fc":0.02}
]},
"layer": [
{"mark": {"type": "line", "strokeWidth": 1.5, "clip": true},
 "encoding": {
  "x": {"field": "day", "type": "quantitative", "scale": {"domain": [30, 360], "nice": false, "zero": false},
        "axis": {"orient": "bottom", "values": [50,100,150,200,250,300,350], "grid": false, "domain": false, "tickSize": -7, "tickWidth": 1.3, "tickColor": "#555555", "labelPadding": 17, "labelFontSize": 18, "labelColor": "#333333", "labelFont": "Liberation Sans", "title": "Days since Sep 30 2002", "titleFontSize": 19, "titleFontWeight": "normal", "titleColor": "#333333", "titleFont": "Liberation Sans", "titlePadding": 4}},
  "y": {"field": "fc", "type": "quantitative", "scale": {"domain": [0, 21.5], "nice": false},
        "axis": {"orient": "left", "values": [0,2,4,6,8,10,12,14,16,18,20], "grid": false, "domain": false, "tickSize": -7, "tickWidth": 1.3, "tickColor": "#555555", "labelPadding": 25, "labelFontSize": 18, "labelColor": "#333333", "labelFont": "Liberation Sans", "title": "FC cfu/100 ml", "titleFontSize": 18, "titleFontWeight": "normal", "titleColor": "#333333", "titleFont": "Liberation Sans", "titlePadding": -4}},
  "color": {"field": "s", "type": "nominal", "legend": null,
            "scale": {"domain": ["a","b","c","d","e","f","g","h","i","j"],
                      "range": ["#7e7e7e","#76caca","#dada86","#c47cce","#7068c4","#8282d4","#70a880","#88b898","#3a5878","#cc4c74"]}}
 }},
{"mark": {"type": "rule", "color": "#de8a8a", "strokeWidth": 1.6},
 "encoding": {"y": {"datum": 14, "type": "quantitative", "axis": null}}},
{"mark": {"type": "text", "align": "left", "baseline": "middle", "fontSize": 32, "fontWeight": "bold", "font": "Liberation Sans", "color": "#111111"},
 "encoding": {"x": {"datum": 38.8, "type": "quantitative", "axis": null}, "y": {"datum": 19.85, "type": "quantitative", "axis": null}, "text": {"value": "S11 WY2003 “Actual Conditions”"}}},
{"mark": {"type": "point", "opacity": 0},
 "encoding": {
  "x": {"datum": 30, "type": "quantitative", "axis": {"orient": "top", "values": [50,100,150,200,250,300,350], "labels": false, "title": null, "grid": false, "domain": false, "tickSize": -7, "tickWidth": 1.3, "tickColor": "#555555"}},
  "y": {"datum": 0, "type": "quantitative", "axis": {"orient": "right", "values": [0,2,4,6,8,10,12,14,16,18,20], "labels": false, "title": null, "grid": false, "domain": false, "tickSize": -7, "tickWidth": 1.3, "tickColor": "#555555"}}
 }}
],
"resolve": {"axis": {"x": "independent", "y": "independent"}}
}
